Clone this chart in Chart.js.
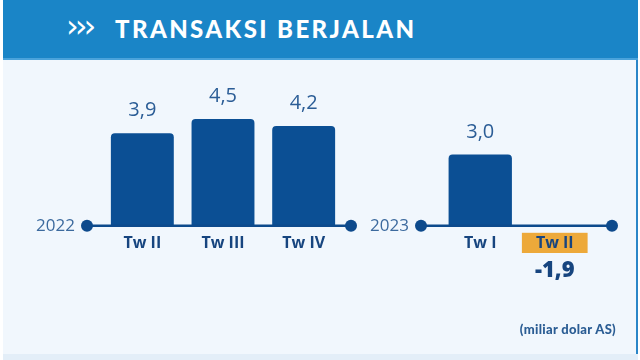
<!DOCTYPE html>
<html><head><meta charset="utf-8">
<script src="https://cdn.jsdelivr.net/npm/chart.js@4/dist/chart.umd.min.js"></script>
<style>
html,body{margin:0;padding:0;}
body{width:640px;height:360px;position:relative;overflow:hidden;background:#fff;font-family:Lato,"Open Sans",sans-serif;}
#panel{position:absolute;left:3px;top:0;width:633px;height:354px;background:#f1f7fd;border-right:2px solid #2a86c8;}
#header{position:absolute;left:3px;top:0;width:635px;height:58px;background:#1a85c7;border-bottom:2px solid #4aa3db;}
#chev{position:absolute;left:63px;top:7px;color:#fff;font:400 32px "DejaVu Sans",sans-serif;letter-spacing:-4px;white-space:nowrap;}
#title{position:absolute;left:112px;top:14px;color:#fff;font:900 24px Lato,"Open Sans",sans-serif;letter-spacing:2.4px;white-space:nowrap;}
#unit{position:absolute;right:24px;top:321px;color:#2b5d94;font:900 13px Lato,"Open Sans",sans-serif;letter-spacing:0.3px;}
#bottom{position:absolute;left:3px;top:354px;width:635px;height:6px;background:#e3eef8;}
.box{position:absolute;}
</style></head>
<body>
<div id="panel"></div>
<div id="header"><div id="chev">›››</div><div id="title">TRANSAKSI BERJALAN</div></div>
<div id="bottom"></div>
<div class="box" style="left:0;top:60px;width:370px;height:280px;"><canvas id="c1"></canvas></div>
<div class="box" style="left:360px;top:60px;width:280px;height:280px;"><canvas id="c2"></canvas></div>
<div id="unit">(miliar dolar AS)</div>
<script>
const years = ["2022", "2023"];
const categories2022 = ["Tw II", "Tw III", "Tw IV"];
const values2022 = [3.9, 4.5, 4.2];
const categories2023 = ["Tw I", "Tw II"];
const values2023 = [3.0, -1.9];
const valueLabels2022 = ["3,9", "4,5", "4,2"];
const valueLabels2023 = ["3,0", "-1,9"];

const BAR = "#0b4f94";
const DARK = "#0d4a8c";

function axisPlugin(year, leftExt, rightExt, labels) {
  return {
    id: "deco" + year,
    afterDatasetsDraw(chart) {
      const ctx = chart.ctx;
      const y0 = chart.scales.y.getPixelForValue(0);
      const x1 = chart.chartArea.left - leftExt;
      const x2 = chart.chartArea.right + rightExt;
      ctx.save();
      ctx.strokeStyle = DARK;
      ctx.lineWidth = 2.5;
      ctx.beginPath(); ctx.moveTo(x1, y0); ctx.lineTo(x2, y0); ctx.stroke();
      ctx.fillStyle = DARK;
      [x1, x2].forEach(x => { ctx.beginPath(); ctx.arc(x, y0, 6, 0, Math.PI * 2); ctx.fill(); });
      ctx.fillStyle = "#3c6a9e";
      ctx.font = "17px 'Open Sans', sans-serif";
      ctx.textAlign = "right"; ctx.textBaseline = "middle";
      ctx.fillText(year, x1 - 12, y0);
      const meta = chart.getDatasetMeta(0);
      const data = chart.data.datasets[0].data;
      meta.data.forEach((bar, i) => {
        const v = data[i];
        ctx.textAlign = "center";
        if (v >= 0) {
          ctx.fillStyle = "#2b5d96";
          ctx.font = "20px 'Open Sans', sans-serif";
          ctx.textBaseline = "alphabetic";
          ctx.fillText(labels[i], bar.x, bar.y - 17);
        } else {
          ctx.fillStyle = "#17457f";
          ctx.font = "800 22px 'Open Sans', sans-serif";
          ctx.textBaseline = "middle";
          ctx.fillText(labels[i], bar.x, y0 + 45);
        }
      });
      ctx.restore();
    }
  };
}

function makeChart(id, cats, vals, labels, year, pad, leftExt, rightExt, barPct, highlight) {
  return new Chart(document.getElementById(id), {
    type: "bar",
    data: {
      labels: cats,
      datasets: [{
        data: vals,
        backgroundColor: vals.map(v => v >= 0 ? BAR : "rgba(0,0,0,0)"),
        borderRadius: { topLeft: 4, topRight: 4 },
        borderSkipped: "bottom",
        barPercentage: barPct,
        categoryPercentage: 1
      }]
    },
    options: {
      responsive: true, maintainAspectRatio: false, animation: false,
      layout: { padding: pad },
      plugins: { legend: { display: false }, tooltip: { enabled: false } },
      scales: {
        y: { display: false, min: 0, max: 5 },
        x: {
          grid: { display: false }, border: { display: false },
          ticks: {
            color: "#17457f",
            font: { family: "'Open Sans', sans-serif", size: 16, weight: "700" },
            padding: 0,
            showLabelBackdrop: ctx => highlight.includes(ctx.index),
            backdropColor: "#eda93a",
            backdropPadding: { left: 14, right: 14, top: 1, bottom: 1 }
          }
        }
      }
    },
    plugins: [axisPlugin(year, leftExt, rightExt, labels)]
  });
}

makeChart("c1", categories2022, values2022, valueLabels2022, years[0],
  { left: 102, right: 26, top: 47, bottom: 87 }, 15, 7, 0.78, []);
makeChart("c2", categories2023, values2023, valueLabels2023, years[1],
  { left: 83, right: 48, top: 47, bottom: 87 }, 22, 20, 0.85, [1]);
</script>
</body></html>
